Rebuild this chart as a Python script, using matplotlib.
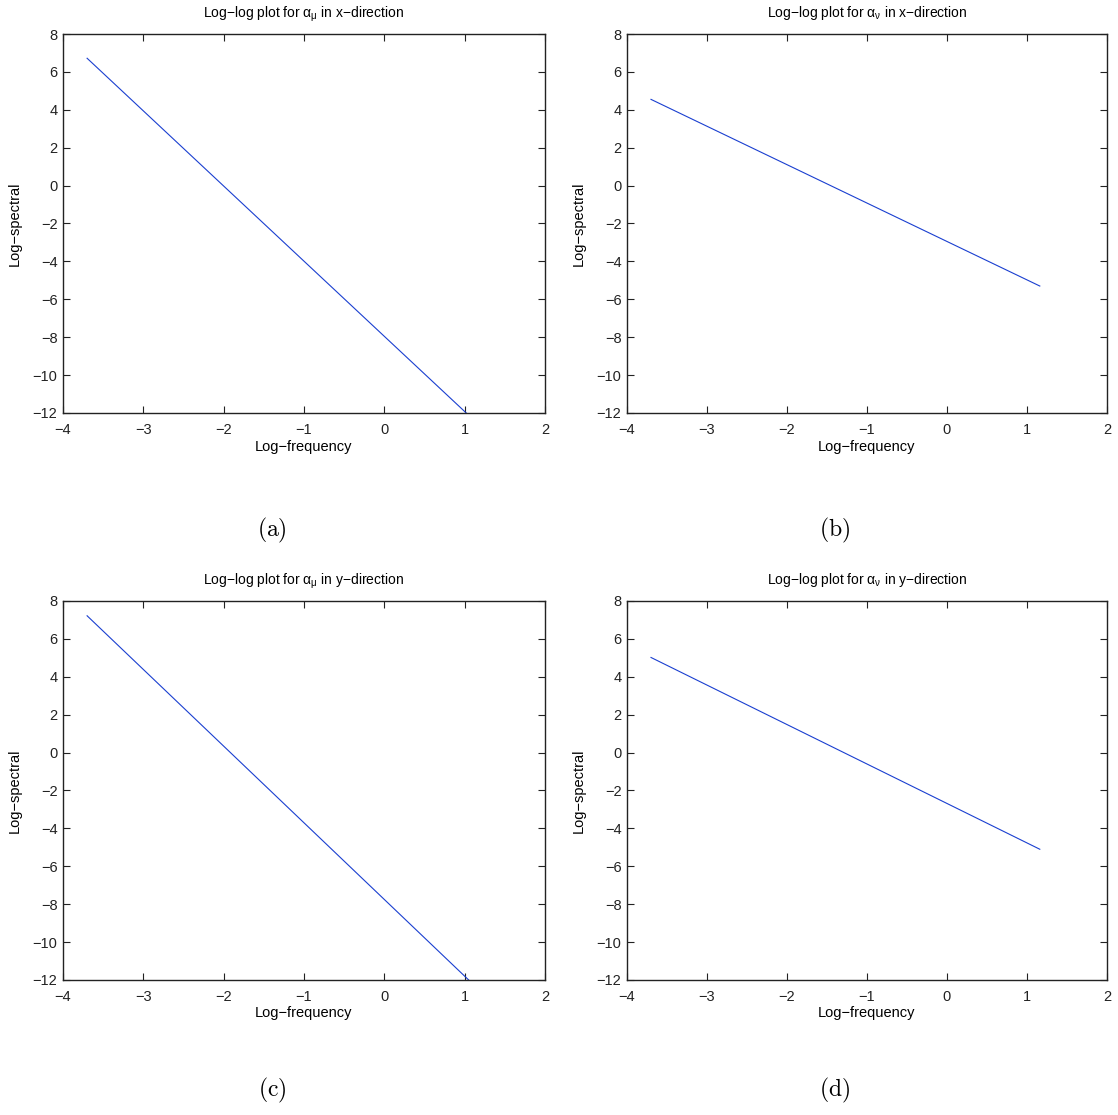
import matplotlib
matplotlib.use("Agg")
import matplotlib.pyplot as plt

plt.rcParams['font.family'] = ['Liberation Sans', 'DejaVu Sans']
plt.rcParams['mathtext.fontset'] = 'custom'
plt.rcParams['mathtext.rm'] = 'Liberation Sans'
plt.rcParams['mathtext.it'] = 'Liberation Sans'

# Data (straight fitted lines: start and end points)
freq_a = [-3.70, 1.02]
spec_a = [6.72, -12.0]
freq_b = [-3.70, 1.16]
spec_b = [4.55, -5.30]
freq_c = [-3.70, 1.05]
spec_c = [7.22, -12.0]
freq_d = [-3.70, 1.16]
spec_d = [5.02, -5.10]

titles = [
    "Log\u2212log plot for $\\alpha_{\\mu}$ in x\u2212direction",
    "Log\u2212log plot for $\\alpha_{\\nu}$ in x\u2212direction",
    "Log\u2212log plot for $\\alpha_{\\mu}$ in y\u2212direction",
    "Log\u2212log plot for $\\alpha_{\\nu}$ in y\u2212direction",
]
captions = ["(a)", "(b)", "(c)", "(d)"]
xticks = [-4, -3, -2, -1, 0, 1, 2]
yticks = [8, 6, 4, 2, 0, -2, -4, -6, -8, -10, -12]

W, H = 1118, 1115
fig = plt.figure(figsize=(W / 100, H / 100), dpi=100)

lefts = [63, 627, 63, 627]
rights = [545, 1107, 545, 1107]
tops = [34, 34, 601, 601]
bottoms = [413, 413, 980, 980]
cap_pos = [(272, 530), (835, 530), (272, 1090), (835, 1090)]

data = [(freq_a, spec_a), (freq_b, spec_b), (freq_c, spec_c), (freq_d, spec_d)]

def fmt(v):
    return str(v).replace('-', '\u2212')

for i in range(4):
    ax = fig.add_axes([lefts[i] / W, 1 - bottoms[i] / H,
                       (rights[i] - lefts[i]) / W, (bottoms[i] - tops[i]) / H])
    fx, sy = data[i]
    ax.plot(fx, sy, color='#1a3fd0', lw=0.8)
    ax.set_xlim(-4, 2)
    ax.set_ylim(-12, 8)
    ax.set_xticks(xticks)
    ax.set_xticklabels([fmt(v) for v in xticks])
    ax.set_yticks(yticks)
    ax.set_yticklabels([fmt(v) for v in yticks])
    ax.tick_params(direction='in', length=5, width=0.8, top=True, right=True,
                   labelsize=10.5, colors='#222222')
    ax.tick_params(axis='x', pad=7)
    ax.tick_params(axis='y', pad=4)
    for s in ax.spines.values():
        s.set_linewidth(1.0)
        s.set_color('#222222')
    ax.set_title(titles[i], fontsize=10, pad=12)
    ax.set_xlabel("Log\u2212frequency", fontsize=10.5, labelpad=2)
    ax.set_ylabel("Log\u2212spectral", fontsize=10.5, labelpad=8)
    cx, cy = cap_pos[i]
    fig.text(cx / W, 1 - cy / H, "$\\mathrm{" + captions[i] + "}$",
             fontsize=17, ha='center', va='center',
             math_fontfamily='cm')

fig.savefig("out.png", dpi=100, facecolor='white')
